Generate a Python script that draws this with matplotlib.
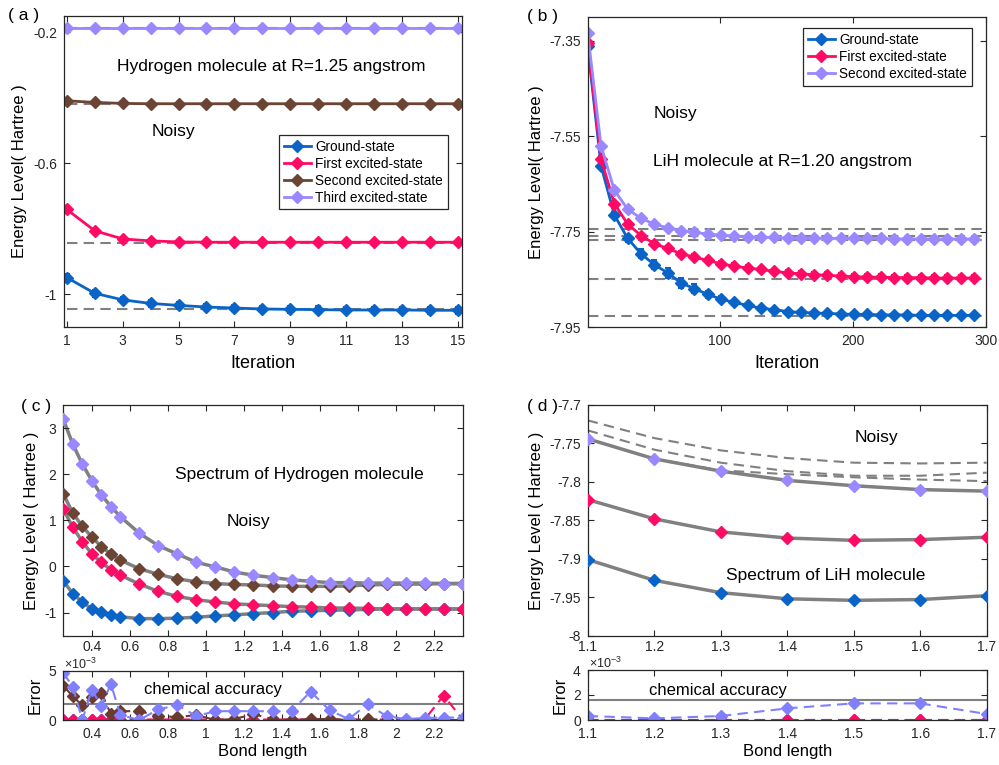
import numpy as np
import matplotlib
matplotlib.use('Agg')
from matplotlib import pyplot as plt
from matplotlib.ticker import FormatStrFormatter, FuncFormatter

plt.rcParams['font.family'] = ['Liberation Sans', 'DejaVu Sans']
plt.rcParams['axes.unicode_minus'] = False
plt.rcParams['mathtext.fontset'] = 'custom'
plt.rcParams['mathtext.rm'] = 'Liberation Sans'

# colours
c_blue = '#0a64c8'
c_red = '#ff0a64'
c_brown = '#6b4434'
c_purple = '#9988ff'
c_gray = '#808080'

# ---- (a) hydrogen, iterations ----
a_iter = list(range(1, 16))
a_ground = [-0.949, -0.997, -1.017, -1.028, -1.034, -1.039, -1.042, -1.045,
            -1.046, -1.047, -1.048, -1.048, -1.048, -1.049, -1.049]
a_first = [-0.741, -0.806, -0.831, -0.837, -0.840, -0.841, -0.841, -0.841,
           -0.841, -0.841, -0.841, -0.841, -0.841, -0.841, -0.841]
a_second = [-0.409, -0.414, -0.417, -0.418, -0.418, -0.418, -0.418, -0.418,
            -0.418, -0.418, -0.418, -0.418, -0.418, -0.418, -0.418]
a_third = [-0.187, -0.187, -0.187, -0.187, -0.187, -0.187, -0.187, -0.187,
           -0.187, -0.187, -0.187, -0.187, -0.187, -0.187, -0.187]
a_err = [0.010, 0.006, 0.004, 0.006]
a_exact = [-1.046, -0.843, -0.418, -0.187]

# ---- (b) LiH, iterations ----
b_iter = list(range(1, 292, 10))
b_ground = [-7.362, -7.612, -7.715, -7.764, -7.796, -7.819, -7.836, -7.857, -7.869, -7.881,
            -7.891, -7.898, -7.904, -7.910, -7.913, -7.917, -7.919, -7.920, -7.921, -7.922,
            -7.923, -7.923, -7.924, -7.924, -7.924, -7.925, -7.925, -7.925, -7.925, -7.925]
b_first = [-7.355, -7.598, -7.691, -7.734, -7.758, -7.775, -7.785, -7.796, -7.803, -7.810,
           -7.817, -7.822, -7.826, -7.829, -7.833, -7.836, -7.838, -7.840, -7.841, -7.843,
           -7.844, -7.845, -7.845, -7.846, -7.846, -7.846, -7.847, -7.847, -7.847, -7.847]
b_second = [-7.334, -7.570, -7.663, -7.703, -7.722, -7.734, -7.742, -7.748, -7.751, -7.755,
            -7.757, -7.759, -7.761, -7.762, -7.762, -7.763, -7.763, -7.763, -7.764, -7.764,
            -7.764, -7.764, -7.764, -7.765, -7.765, -7.765, -7.765, -7.765, -7.765, -7.765]
b_ground_err = [0.004, 0.004, 0.006, 0.008, 0.010, 0.010, 0.010, 0.010, 0.010, 0.008,
                0.007, 0.006, 0.005, 0.004, 0.004, 0.003, 0.003, 0.003, 0.003, 0.003,
                0.003, 0.003, 0.003, 0.003, 0.003, 0.003, 0.003, 0.003, 0.003, 0.003]
b_first_err = 0.006
b_second_err = 0.004
b_exact = [-7.927, -7.848, -7.768, -7.758, -7.745]

# ---- (c) hydrogen spectrum ----
c_bond = [0.25, 0.30, 0.35, 0.40, 0.45, 0.50, 0.55, 0.65, 0.75, 0.85, 0.95, 1.05, 1.15,
          1.25, 1.35, 1.45, 1.55, 1.65, 1.75, 1.85, 1.95, 2.05, 2.15, 2.25, 2.35]
c_ground = [-0.31, -0.59, -0.77, -0.92, -0.99, -1.05, -1.09, -1.13, -1.13, -1.12, -1.10,
            -1.07, -1.05, -1.02, -1.00, -0.97, -0.96, -0.95, -0.94, -0.93, -0.92, -0.92,
            -0.92, -0.92, -0.92]
c_first = [1.24, 0.85, 0.54, 0.27, 0.09, -0.07, -0.19, -0.38, -0.54, -0.65, -0.72, -0.77,
           -0.81, -0.83, -0.85, -0.87, -0.88, -0.90, -0.90, -0.91, -0.92, -0.92, -0.92,
           -0.92, -0.92]
c_second = [1.57, 1.16, 0.87, 0.64, 0.43, 0.27, 0.14, -0.05, -0.17, -0.27, -0.33, -0.37,
            -0.39, -0.40, -0.42, -0.43, -0.43, -0.43, -0.42, -0.40, -0.39, -0.38, -0.38,
            -0.37, -0.37]
c_third = [3.19, 2.65, 2.22, 1.86, 1.55, 1.30, 1.08, 0.72, 0.45, 0.27, 0.09, -0.01, -0.12,
           -0.19, -0.24, -0.29, -0.32, -0.35, -0.35, -0.36, -0.36, -0.36, -0.36, -0.37,
           -0.37]
c_spread = 0.05
c_err_ground = [0.05, 0.05, 0.05, 0.05, 0.05, 0.05, 0.05, 0.05, 0.05, 0.05, 0.05, 0.05, 0.05,
                0.05, 0.05, 0.05, 0.05, 0.05, 0.05, 0.05, 0.05, 0.05, 0.05, 0.05, 0.05]
c_err_first = [0.05, 0.05, 0.05, 0.05, 0.05, 0.05, 0.05, 0.05, 0.05, 0.05, 0.05, 0.05, 0.05,
               0.05, 0.05, 0.05, 0.05, 0.05, 0.05, 0.05, 0.05, 0.05, 0.05, 2.5, 0.05]
c_err_second = [3.5, 2.4, 1.5, 2.3, 2.8, 0.6, 0.9, 0.9, 0.4, 0.3, 0.5, 0.0, 0.1,
                0.6, 0.1, 0.0, 0.1, 0.1, 0.0, 0.1, 0.0, 0.0, 0.0, 0.0, 0.0]
c_err_third = [4.8, 3.4, 0.0, 3.1, 1.4, 3.7, 0.5, 0.0, 1.1, 1.5, 0.4, 0.9, 0.9,
               0.9, 0.9, 0.9, 2.9, 1.0, 0.1, 1.6, 0.4, 0.1, 0.2, 0.25, 0.25]

# ---- (d) LiH spectrum ----
d_bond = [1.1, 1.2, 1.3, 1.4, 1.5, 1.6, 1.7]
d_ground = [-7.901, -7.928, -7.944, -7.952, -7.954, -7.953, -7.948]
d_first = [-7.823, -7.848, -7.865, -7.873, -7.876, -7.875, -7.872]
d_second = [-7.744, -7.770, -7.786, -7.798, -7.805, -7.810, -7.812]
d_upper1 = [-7.720, -7.743, -7.759, -7.769, -7.775, -7.776, -7.775]
d_upper2 = [-7.733, -7.758, -7.775, -7.786, -7.792, -7.792, -7.788]
d_upper3 = [-7.744, -7.770, -7.785, -7.790, -7.794, -7.797, -7.799]
d_spread = 0.002
d_err_ground = [0.02, 0.02, 0.02, 0.02, 0.02, 0.02, 0.02]
d_err_first = [0.03, 0.03, 0.03, 0.03, 0.03, 0.03, 0.03]
d_err_second = [0.32, 0.13, 0.32, 0.93, 1.33, 1.33, 0.48]
chem_acc = 1.6e-3

W, H = 999, 765
fig = plt.figure(figsize=(W / 100, H / 100), dpi=100)


def box(l, t, r, b):
    return [l / W, 1 - b / H, (r - l) / W, (b - t) / H]


def style(ax, xpad=5):
    ax.tick_params(direction='in', top=True, right=True, labelsize=10,
                   colors='#262626', length=4, width=0.8, pad=5)
    ax.tick_params(axis='x', pad=xpad)
    for s in ax.spines.values():
        s.set_color('#262626')
        s.set_linewidth(0.9)


def legend(ax, labels, colors, anchor):
    hs = [plt.Line2D([], [], color=c, marker='D', ms=6, lw=2) for c in colors]
    lg = ax.legend(hs, labels, loc='upper right', bbox_to_anchor=anchor, fontsize=9.8,
                   fancybox=False, framealpha=1, edgecolor='#262626', handlelength=2.0,
                   handletextpad=0.3, borderpad=0.35, labelspacing=0.22, borderaxespad=0)
    lg.get_frame().set_linewidth(0.9)


def milli(ax, x, y):
    # scale factor shown above the error axis, as MATLAB does
    ax.yaxis.set_major_formatter(FuncFormatter(lambda v, p: '%g' % round(v * 1e3, 6)))
    fig.text(x / W, 1 - y / H, r'$\times10^{-3}$', ha='left', va='center', fontsize=9,
             color='#262626')


ebkw = dict(marker='D', ms=6, lw=2, capsize=2.5, elinewidth=1.5, capthick=1.5)

# (a)
ax = fig.add_axes(box(64, 16, 462, 327))
for e in a_exact:
    ax.hlines(e, 1, 15.2, colors=c_gray, linestyles=(0, (5, 3)), lw=1.5, zorder=1)
for y, c, er in zip([a_ground, a_first, a_second, a_third],
                    [c_blue, c_red, c_brown, c_purple], a_err):
    ax.errorbar(a_iter, y, yerr=er, color=c, **ebkw)
ax.set_xlim(0.9, 15.15)
ax.set_ylim(-1.1, -0.15)
ax.set_xticks([1, 3, 5, 7, 9, 11, 13, 15])
ax.set_yticks([-1, -0.6, -0.2])
ax.yaxis.set_major_formatter(FormatStrFormatter('%g'))
ax.set_xlabel('Iteration', fontsize=13, labelpad=5)
ax.set_ylabel('Energy Level( Hartree )', fontsize=12)
ax.text(0.52, 0.837, 'Hydrogen molecule at R=1.25 angstrom', transform=ax.transAxes,
        ha='center', va='center', fontsize=12.5)
ax.text(0.274, 0.628, 'Noisy', transform=ax.transAxes, ha='center', va='center', fontsize=12.5)
legend(ax, ['Ground-state', 'First excited-state', 'Second excited-state', 'Third excited-state'],
       [c_blue, c_red, c_brown, c_purple], (0.964, 0.618))
style(ax)

# (b)
ax = fig.add_axes(box(587.7, 16.7, 986, 327.3))
for e in b_exact:
    ax.axhline(e, color=c_gray, ls=(0, (5, 3)), lw=1.5, zorder=1)
ax.errorbar(b_iter, b_ground, yerr=b_ground_err, color=c_blue, **ebkw)
ax.errorbar(b_iter, b_first, yerr=b_first_err, color=c_red, **ebkw)
ax.errorbar(b_iter, b_second, yerr=b_second_err, color=c_purple, **ebkw)
ax.set_xlim(1, 300)
ax.set_ylim(-7.95, -7.3)
ax.set_xticks([100, 200, 300])
ax.set_yticks([-7.95, -7.75, -7.55, -7.35])
ax.yaxis.set_major_formatter(FormatStrFormatter('%g'))
ax.set_xlabel('Iteration', fontsize=13, labelpad=5)
ax.set_ylabel('Energy Level( Hartree )', fontsize=12)
ax.text(0.165, 0.689, 'Noisy', transform=ax.transAxes, ha='left', va='center', fontsize=12.5)
ax.text(0.165, 0.535, 'LiH molecule at R=1.20 angstrom', transform=ax.transAxes,
        ha='left', va='center', fontsize=12.5)
legend(ax, ['Ground-state', 'First excited-state', 'Second excited-state'],
       [c_blue, c_red, c_purple], (0.964, 0.963))
style(ax)

# (c) main
ax = fig.add_axes(box(63.3, 405, 462.7, 635.7))
for y in [c_ground, c_first, c_second, c_third]:
    ax.plot(c_bond, y, color=c_gray, lw=2.5, zorder=1)
for y, c in zip([c_ground, c_first, c_second, c_third], [c_blue, c_red, c_brown, c_purple]):
    ax.errorbar(c_bond, y, yerr=c_spread, color=c, marker='D', ms=6, ls='none',
                capsize=2, elinewidth=1.2, zorder=3)
ax.set_xlim(0.25, 2.35)
ax.set_ylim(-1.5, 3.5)
ax.set_xticks(np.arange(0.4, 2.3, 0.2))
ax.set_yticks([-1, 0, 1, 2, 3])
ax.xaxis.set_major_formatter(FormatStrFormatter('%g'))
ax.set_ylabel('Energy Level ( Hartree )', fontsize=12)
ax.text(0.59, 0.697, 'Spectrum of Hydrogen molecule', transform=ax.transAxes,
        ha='center', va='center', fontsize=12.5)
ax.text(0.463, 0.494, 'Noisy', transform=ax.transAxes, ha='center', va='center', fontsize=12.5)
style(ax, xpad=3)

# (c) error
ax = fig.add_axes(box(63.3, 671, 462.7, 720))
ax.axhline(chem_acc, color=c_gray, lw=1.5, zorder=1)
for y, c in zip([c_err_ground, c_err_first, c_err_second, c_err_third],
                [c_blue, c_red, '#6b3a30', '#8080ff']):
    ax.plot(c_bond, np.array(y) * 1e-3, color=c, ls=(0, (5, 3)), lw=1.5, marker='D', ms=6)
ax.set_xlim(0.25, 2.35)
ax.set_ylim(0, 5e-3)
ax.set_xticks(np.arange(0.4, 2.3, 0.2))
ax.set_yticks([0, 5e-3])
ax.xaxis.set_major_formatter(FormatStrFormatter('%g'))
milli(ax, 64, 664)
ax.set_xlabel('Bond length', fontsize=12, labelpad=2)
ax.set_ylabel('Error', fontsize=12)
ax.text(1.037, 3.1e-3, 'chemical accuracy', ha='center', va='center', fontsize=12)
style(ax)

# (d) main
ax = fig.add_axes(box(587.7, 405, 986.7, 635.7))
for y in [d_upper1, d_upper2, d_upper3]:
    ax.plot(d_bond, y, color=c_gray, ls=(0, (5, 3)), lw=1.5, zorder=1)
for y in [d_ground, d_first, d_second]:
    ax.plot(d_bond, y, color=c_gray, lw=2.5, zorder=1)
for y, c in zip([d_ground, d_first, d_second], [c_blue, c_red, c_purple]):
    ax.errorbar(d_bond, y, yerr=d_spread, color=c, marker='D', ms=6, ls='none',
                capsize=2, elinewidth=1.2, zorder=3)
ax.set_xlim(1.1, 1.7)
ax.set_ylim(-8, -7.7)
ax.set_xticks(d_bond)
ax.set_yticks([-8, -7.95, -7.9, -7.85, -7.8, -7.75, -7.7])
ax.xaxis.set_major_formatter(FormatStrFormatter('%g'))
ax.yaxis.set_major_formatter(FormatStrFormatter('%g'))
ax.set_ylabel('Energy Level ( Hartree )', fontsize=12)
ax.text(0.724, 0.858, 'Noisy', transform=ax.transAxes, ha='center', va='center', fontsize=12.5)
ax.text(0.596, 0.263, 'Spectrum of LiH molecule', transform=ax.transAxes,
        ha='center', va='center', fontsize=12.5)
style(ax, xpad=3)

# (d) error
ax = fig.add_axes(box(587.7, 670, 986.7, 720))
ax.axhline(chem_acc, color=c_gray, lw=1.5, zorder=1)
for y, c in zip([d_err_ground, d_err_first, d_err_second], [c_blue, c_red, '#8080ff']):
    ax.plot(d_bond, np.array(y) * 1e-3, color=c, ls=(0, (5, 3)), lw=1.5, marker='D', ms=6)
ax.set_xlim(1.1, 1.7)
ax.set_ylim(0, 4e-3)
ax.set_xticks(d_bond)
ax.set_yticks([0, 2e-3, 4e-3])
ax.xaxis.set_major_formatter(FormatStrFormatter('%g'))
milli(ax, 589, 663)
ax.set_xlabel('Bond length', fontsize=12, labelpad=2)
ax.set_ylabel('Error', fontsize=12)
ax.text(1.296, 2.4e-3, 'chemical accuracy', ha='center', va='center', fontsize=12)
style(ax)

# panel letters
for s, x, y in [('( a )', 0.024, 0.980), ('( b )', 0.5435, 0.978),
                ('( c )', 0.036, 0.468), ('( d )', 0.5435, 0.468)]:
    fig.text(x, y, s, ha='center', va='center', fontsize=12.5)

fig.savefig('out.png', dpi=100)
